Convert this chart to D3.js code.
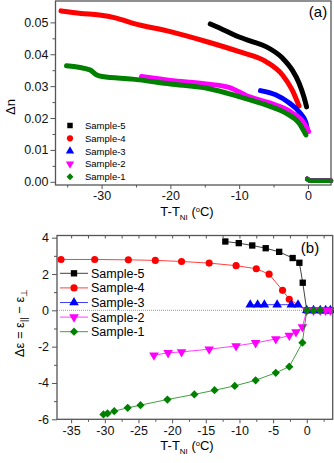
<!DOCTYPE html>
<html>
<head>
<meta charset="utf-8">
<script src="https://cdn.jsdelivr.net/npm/d3@7"></script>
<style>
  body { margin: 0; background: #fff; }
  svg { font-family: "Liberation Sans", Arial, sans-serif; }
</style>
</head>
<body>
<div id="chart"></div>
<script>
// ---- panel (a): birefringence vs T-TNI ----
const samples = ['Sample-5', 'Sample-4', 'Sample-3', 'Sample-2', 'Sample-1'];
const colors = ['#000000', '#ff0000', '#0000ff', '#ff00ff', '#008000'];
const symbols = [d3.symbolSquare, d3.symbolCircle, d3.symbolTriangle, d3.symbolTriangle, d3.symbolSquare];
const turns = [0, 0, 0, 180, 45]; // down triangle, square turned into a diamond

const dn5 = [[-14.2,0.0495],[-12,0.0474],[-10,0.0454],[-8,0.0439],[-6.1,0.0424],[-3.7,0.0388],[-2.3,0.0351],[-1.3,0.031],[-0.6,0.0267],[-0.2,0.0235]];
const dn4 = [[-35.9,0.0536],[-33,0.0528],[-30.3,0.0523],[-28,0.0514],[-25.4,0.0497],[-20,0.0471],[-14.8,0.044],[-10,0.0408],[-6.1,0.0377],[-3.7,0.0335],[-2.3,0.0288],[-1.3,0.0238]];
const dn3 = [[-6.9,0.0286],[-4.7,0.0273],[-2.7,0.0247],[-1.3,0.022],[-0.3,0.0185],[-0.1,0.0165]];
const dn2 = [[-24.2,0.033],[-20,0.0318],[-14.8,0.0307],[-11.5,0.0296],[-8.6,0.0267],[-4.7,0.0241],[-2.3,0.0216],[-0.6,0.0185],[0.1,0.0158]];
const dn1 = [[-35.1,0.0364],[-31.7,0.0351],[-30.7,0.0335],[-29.9,0.033],[-25.5,0.0322],[-20,0.0307],[-14.8,0.0294],[-10,0.0267],[-6.1,0.0241],[-3.2,0.0215],[-1.3,0.0184],[-0.3,0.0147]];
const dnIso = [[-0.1,0.0009],[0.4,0.0003],[3.35,0.0003]];

// ---- panel (b): dielectric anisotropy vs T-TNI ----
const de5 = [[-12.1,3.79],[-10.1,3.70],[-8.1,3.57],[-6.1,3.42],[-4.1,3.22],[-2.1,2.88],[-1.1,2.62],[-0.6,1.52],[0,0],[1,0],[2,0],[2.8,0],[3.5,0]];
const de4 = [[-36.5,2.80],[-31.5,2.80],[-26.5,2.78],[-22.5,2.75],[-18.6,2.69],[-14.5,2.60],[-10.5,2.46],[-7.5,2.29],[-5.6,1.99],[-3.6,1.10],[-2.6,0.61],[0,0],[1,0],[2,0],[2.8,0],[3.5,0]];
const de3 = [[-8.4,0.31],[-7.3,0.31],[-6.3,0.31],[-4.4,0.31],[-2.3,0.31],[-1.3,0.31],[0,0],[1,0],[2,0],[2.8,0],[3.5,0]];
const de2 = [[-22.7,-2.47],[-20.6,-2.34],[-18.6,-2.29],[-14.5,-2.14],[-10.5,-1.96],[-7.6,-1.79],[-4.6,-1.58],[-2.6,-1.39],[-1.6,-1.19],[-0.65,-0.92],[0,0],[1,0],[2,0],[2.8,0],[3.5,0]];
const de1 = [[-30.2,-5.73],[-29.6,-5.68],[-28.6,-5.55],[-26.6,-5.37],[-24.7,-5.22],[-20.7,-4.91],[-16.7,-4.63],[-13.7,-4.40],[-10.7,-4.16],[-7.6,-3.85],[-4.6,-3.44],[-2.6,-3.10],[-0.65,-1.78],[0,0],[1,0],[2,0]];

const xTicksA = [-30, -20, -10, 0];
const xMinorA = [-35, -25, -15, -5];
const yTicksA = [0, 0.01, 0.02, 0.03, 0.04, 0.05];
const yMinorA = [0.005, 0.015, 0.025, 0.035, 0.045];
const xTicksB = [-35, -30, -25, -20, -15, -10, -5, 0];
const xMinorB = [-32.5, -27.5, -22.5, -17.5, -12.5, -7.5, -2.5, 2.5];
const yTicksB = [-6, -4, -2, 0, 2, 4];
const yMinorB = [-5, -3, -1, 1, 3];

const W = 334, H = 463;
const svg = d3.select('#chart').append('svg')
    .attr('width', W)
    .attr('height', H);

const axisColor = '#555';

function styleAxis(g) {
    g.select('.domain').remove();
    g.selectAll('line').attr('stroke', axisColor).attr('stroke-width', 1);
    g.selectAll('text').attr('fill', '#111').style('font-size', '12.5px')
        .style('font-family', '"Liberation Sans", Arial, sans-serif');
}

function frame(x0, x1, y0, y1) {
    svg.append('rect')
        .attr('x', x0).attr('y', y0)
        .attr('width', x1 - x0).attr('height', y1 - y0)
        .attr('fill', 'none')
        .attr('stroke', axisColor)
        .attr('stroke-width', 1.3);
}

function xTitle(cx, y) {
    const t = svg.append('text')
        .attr('x', cx).attr('y', y)
        .attr('text-anchor', 'middle')
        .style('font-size', '13px');
    t.append('tspan').text('T-T');
    t.append('tspan').attr('dy', 4).style('font-size', '8px').text('NI');
    t.append('tspan').attr('dy', -4).text(' (');
    t.append('tspan').attr('dy', -4).style('font-size', '7.5px').text('o');
    t.append('tspan').attr('dy', 4).text('C)');
}

function marker(i, size) {
    return d3.symbol().type(symbols[i]).size(size)();
}

// ================= panel (a) =================
const xa = d3.scaleLinear().domain([-36.7, 3.35]).range([55.5, 331]);
const ya = d3.scaleLinear().domain([-0.001, 0.0567]).range([185, 1]);

const lineA = d3.line()
    .x(d => xa(d[0]))
    .y(d => ya(d[1]))
    .curve(d3.curveMonotoneX);

const gA = svg.append('g');
const seriesA = [dn5, dn4, dn3, dn2, dn1];
seriesA.forEach((s, i) => {
    gA.append('path')
        .attr('d', lineA(s))
        .attr('fill', 'none')
        .attr('stroke', colors[i])
        .attr('stroke-width', 5)
        .attr('stroke-linecap', 'round')
        .attr('stroke-linejoin', 'round');
    gA.append('path')
        .attr('d', lineA(dnIso))
        .attr('fill', 'none')
        .attr('stroke', colors[i])
        .attr('stroke-width', 4.5)
        .attr('stroke-linecap', 'round');
});

svg.append('g')
    .attr('transform', 'translate(0,185)')
    .call(d3.axisBottom(xa).tickValues(xTicksA).tickSize(4).tickPadding(2).tickFormat(d => String(d)))
    .call(styleAxis);
svg.append('g')
    .attr('transform', 'translate(0,185)')
    .call(d3.axisBottom(xa).tickValues(xMinorA).tickSize(2.5).tickFormat(''))
    .call(styleAxis);
svg.append('g')
    .attr('transform', 'translate(55.5,0)')
    .call(d3.axisLeft(ya).tickValues(yTicksA).tickSize(5).tickPadding(2).tickFormat(d3.format('.2f')))
    .call(styleAxis);
svg.append('g')
    .attr('transform', 'translate(55.5,0)')
    .call(d3.axisLeft(ya).tickValues(yMinorA).tickSize(3).tickFormat(''))
    .call(styleAxis);

frame(55.5, 331, 1, 185);

svg.append('text')
    .attr('x', 318).attr('y', 17)
    .attr('text-anchor', 'middle')
    .style('font-size', '15px')
    .text('(a)');

xTitle(187, 216);
svg.append('text')
    .attr('transform', 'translate(15,107) rotate(-90)')
    .attr('text-anchor', 'middle')
    .style('font-size', '13px')
    .text('Δn');

// legend (a)
const legA = svg.append('g');
samples.forEach((name, i) => {
    const yy = 125.5 + i * 12.8;
    legA.append('path')
        .attr('d', marker(i, i === 4 ? 24 : 30))
        .attr('transform', `translate(70,${yy}) rotate(${turns[i]})`)
        .attr('fill', colors[i]);
    legA.append('text')
        .attr('x', 85).attr('y', yy + 3.5)
        .style('font-size', '9.5px')
        .text(name);
});

// ================= panel (b) =================
const xb = d3.scaleLinear().domain([-37.1, 3.85]).range([57, 332.7]);
const yb = d3.scaleLinear().domain([-6, 4.12]).range([419.3, 235.5]);

svg.append('line')
    .attr('x1', xb(-37.1)).attr('x2', xb(3.85))
    .attr('y1', yb(0)).attr('y2', yb(0))
    .attr('stroke', '#999')
    .attr('stroke-width', 1)
    .attr('stroke-dasharray', '1,1');

const lineB = d3.line()
    .x(d => xb(d[0]))
    .y(d => yb(d[1]));

const gB = svg.append('g');
const seriesB = [de5, de4, de3, de2, de1];
seriesB.forEach((s, i) => {
    gB.append('path')
        .attr('d', lineB(s))
        .attr('fill', 'none')
        .attr('stroke', colors[i])
        .attr('stroke-opacity', 0.75)
        .attr('stroke-width', 1);
    gB.selectAll(null)
        .data(s)
        .enter()
        .append('path')
        .attr('d', marker(i, i === 4 ? 34 : 40))
        .attr('transform', d => `translate(${xb(d[0])},${yb(d[1])}) rotate(${turns[i]})`)
        .attr('fill', colors[i]);
});

svg.append('g')
    .attr('transform', 'translate(0,419.3)')
    .call(d3.axisBottom(xb).tickValues(xTicksB).tickSize(4).tickPadding(3).tickFormat(d => String(d)))
    .call(styleAxis);
svg.append('g')
    .attr('transform', 'translate(0,419.3)')
    .call(d3.axisBottom(xb).tickValues(xMinorB).tickSize(2.5).tickFormat(''))
    .call(styleAxis);
svg.append('g')
    .attr('transform', 'translate(0,235.5)')
    .call(d3.axisBottom(xb).tickValues(xTicksB.concat(xMinorB)).tickSize(3).tickFormat(''))
    .call(styleAxis);
svg.append('g')
    .attr('transform', 'translate(57,0)')
    .call(d3.axisLeft(yb).tickValues(yTicksB).tickSize(5).tickPadding(3).tickFormat(d => String(d)))
    .call(styleAxis);
svg.append('g')
    .attr('transform', 'translate(57,0)')
    .call(d3.axisLeft(yb).tickValues(yMinorB).tickSize(3).tickFormat(''))
    .call(styleAxis);

frame(57, 332.7, 235.5, 419.3);

svg.append('text')
    .attr('x', 310).attr('y', 253)
    .attr('text-anchor', 'middle')
    .style('font-size', '15px')
    .text('(b)');

xTitle(187, 449.5);

const yt = svg.append('text')
    .attr('transform', 'translate(24,323) rotate(-90)')
    .attr('text-anchor', 'middle')
    .style('font-size', '13px');
yt.append('tspan').text('Δε = ε');
yt.append('tspan').attr('dy', 3).style('font-size', '9px').text('||');
yt.append('tspan').attr('dy', -3).text(' − ε');
yt.append('tspan').attr('dy', 3).style('font-size', '9px').text('⊥');

// legend (b)
const legB = svg.append('g');
samples.forEach((name, i) => {
    const yy = 273.3 + i * 14.6;
    legB.append('line')
        .attr('x1', 60).attr('x2', 88)
        .attr('y1', yy).attr('y2', yy)
        .attr('stroke', colors[i])
        .attr('stroke-opacity', 0.75)
        .attr('stroke-width', 1);
    legB.append('path')
        .attr('d', marker(i, i === 4 ? 34 : 40))
        .attr('transform', `translate(74,${yy}) rotate(${turns[i]})`)
        .attr('fill', colors[i]);
    legB.append('text')
        .attr('x', 91).attr('y', yy + 4.5)
        .style('font-size', '12.5px')
        .text(name);
});
</script>
</body>
</html>
